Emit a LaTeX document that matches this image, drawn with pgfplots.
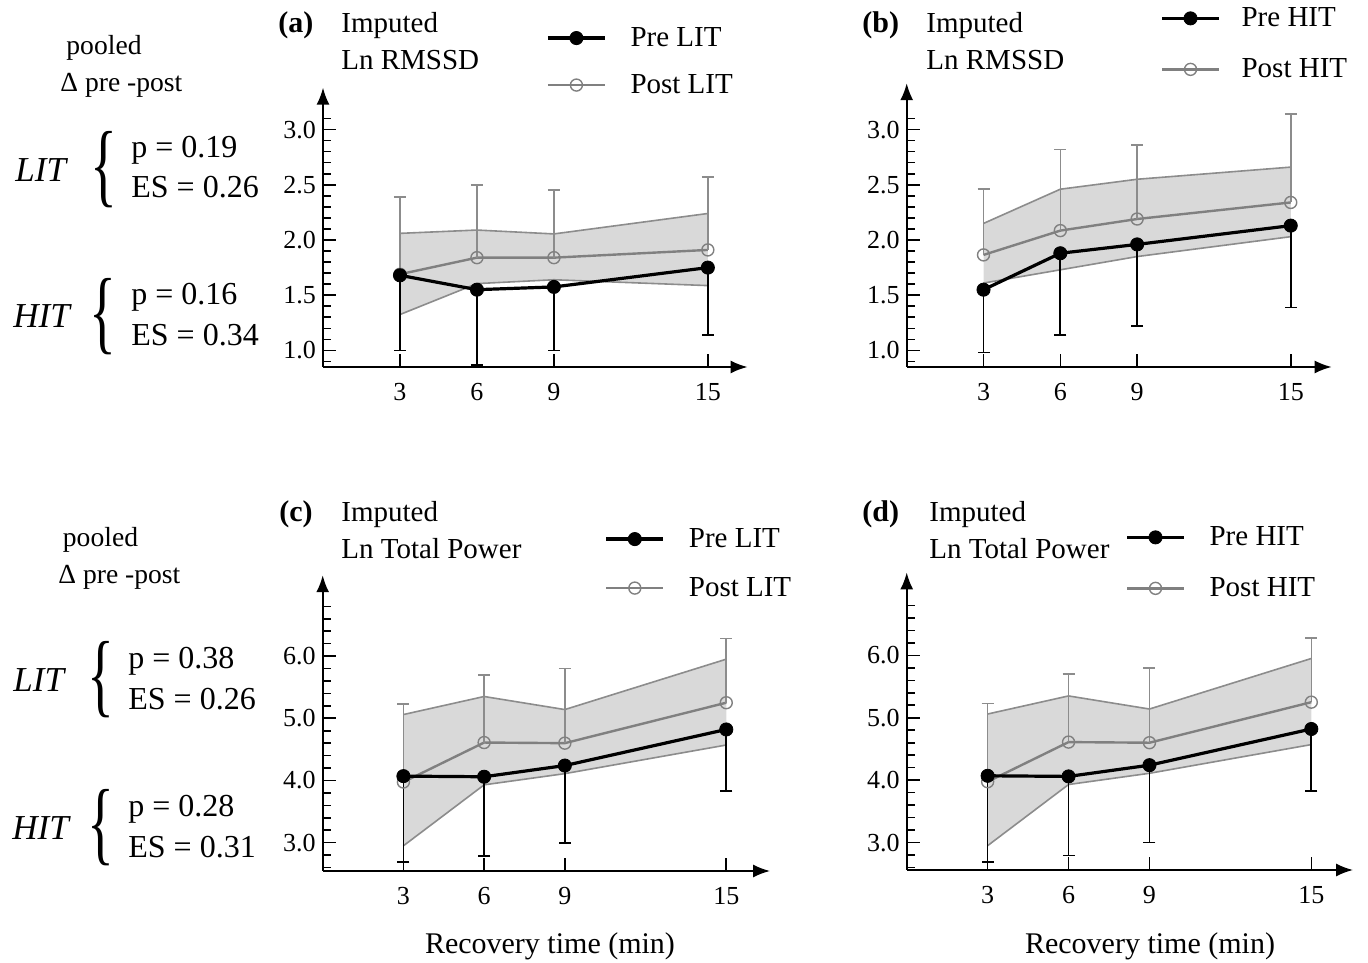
\documentclass[border=0pt]{standalone}
\usepackage{fontspec}
\setmainfont{Liberation Serif}
\newfontfamily\tickfont{Liberation Serif}
\usepackage{graphicx}
\usepackage{pgfplots}
\pgfplotsset{compat=1.18}
\usepgfplotslibrary{fillbetween}
\usetikzlibrary{arrows.meta}
\usepackage{pgfplotstable}

\definecolor{bandfill}{RGB}{217,217,217}
\definecolor{bandedge}{RGB}{140,140,140}
\definecolor{postline}{RGB}{128,128,128}
\definecolor{posterr}{RGB}{140,140,140}
\newcommand{\fs}[1]{\fontsize{#1}{#1}\selectfont}
\newcommand{\bigbrace}{\scalebox{1}[1.65]{\fs{28}\{}}

% x: minutes, pre/post means, one-sided bar lengths, shaded band limits
\pgfplotstableread{
x pre prem post postp hi lo
3 1.68 0.68 1.69 0.70 2.06 1.325
6 1.55 0.685 1.84 0.66 2.09 1.605
9 1.575 0.575 1.84 0.61 2.055 1.64
15 1.75 0.61 1.91 0.66 2.24 1.587
}\rmssdlit
\pgfplotstableread{
x pre prem post postp hi lo
3 1.55 0.57 1.865 0.595 2.15 1.61
6 1.88 0.74 2.085 0.735 2.46 1.73
9 1.96 0.74 2.19 0.67 2.55 1.85
15 2.13 0.74 2.34 0.80 2.66 2.03
}\rmssdhit
\pgfplotstableread{
x pre prem post postp hi lo
3 4.07 1.38 3.975 1.255 5.06 2.95
6 4.06 1.27 4.61 1.09 5.35 3.93
9 4.24 1.24 4.60 1.20 5.14 4.11
15 4.82 0.99 5.25 1.03 5.95 4.57
}\tp

\pgfplotsset{
  hrv/.style={
    scale only axis, axis lines=left, clip=false,
    axis line style={line width=1pt, -{Latex[length=8.5pt,width=6.5pt]}},
    every outer x axis line/.append style={-{Latex[length=8.5pt,width=6.5pt]}},
    every outer y axis line/.append style={-{Latex[length=8.5pt,width=6.5pt]}},
    tick align=inside, major tick length=6.5pt, minor tick length=4pt,
    tick style={black, line width=0.8pt},
    xmin=0, xtick={3,6,9,15},
    xticklabels={3,6,9,15},
    tick label style={font=\tickfont\fs{13}},
    xticklabel style={yshift=-4.5pt},
    legend cell align=left, reverse legend,
    legend style={draw=none, fill=none, inner sep=0pt, anchor=north west,
      font=\fs{14.5}, row sep=12.5pt, column sep=12pt,
      nodes={inner sep=0pt}},
    legend image code/.code={\draw[mark repeat=2,mark phase=2,##1]
      plot coordinates {(0pt,0pt) (14.25pt,0pt) (28.5pt,0pt)};},
  },
  rmssd/.style={ymin=0.85, ytick={1,1.5,2,2.5,3},
    yticklabels={1.0,1.5,2.0,2.5,3.0},
    minor ytick={0.9,1.1,1.2,1.3,1.4,1.6,1.7,1.8,1.9,2.1,2.2,2.3,2.4,2.6,2.7,2.8,2.9,3.1}},
  power/.style={ytick={3,4,5,6},
    yticklabels={3.0,4.0,5.0,6.0},
    minor ytick={2.6,2.8,3.2,3.4,3.6,3.8,4.2,4.4,4.6,4.8,5.2,5.4,5.6,5.8,6.2,6.4,6.6,6.8},
    xlabel={Recovery time (min)}, xlabel style={font=\fs{15}, anchor=base},
    legend style={row sep=13.5pt}},
  edge/.style={bandedge, line width=0.8pt, forget plot},
  post/.style={postline, line width=1.2pt, mark=o, mark size=3pt,
    mark options={solid, draw=postline, line width=0.7pt, fill=none},
    error bars/.cd, y dir=plus, y explicit, error mark=|,
    error bar style={posterr, line width=0.8pt},
    error mark options={posterr, line width=0.8pt, mark size=3pt}},
  pre/.style={black, line width=1.6pt, mark=*, mark size=3.3pt,
    mark options={solid, line width=0.4pt, fill=black},
    error bars/.cd, y dir=minus, y explicit, error mark=|,
    error bar style={black, line width=0.85pt},
    error mark options={black, line width=0.85pt, mark size=3pt}},
}

\newcommand{\panel}[1]{%
  \addplot[edge, name path=hi] table[x=x, y=hi] {#1};
  \addplot[edge, name path=lo] table[x=x, y=lo] {#1};
  \addplot[bandfill, forget plot] fill between[of=hi and lo];
  \addplot[post] table[x=x, y=post, y error plus=postp] {#1};
  \addplot[pre] table[x=x, y=pre, y error minus=prem] {#1};
}

\begin{document}
\begin{tikzpicture}

% (a)
\begin{axis}[hrv, rmssd, at={(161.5pt,297.5pt)}, anchor=south west,
  width=212.3pt, height=139.7pt, xmax=16.55, ymax=3.38,
  legend style={at={(axis description cs:0.525,1.218)}}]
\panel{\rmssdlit}
\legend{Post LIT, Pre LIT}
\end{axis}

% (b)
\begin{axis}[hrv, rmssd, at={(453.35pt,297.5pt)}, anchor=south west,
  width=212.5pt, height=141.9pt, xmax=16.6, ymax=3.42,
  legend style={at={(axis description cs:0.596,1.2685)}, column sep=10.5pt, row sep=14.5pt}]
\panel{\rmssdhit}
\legend{Post HIT, Pre HIT}
\end{axis}

% (c)
\begin{axis}[hrv, power, at={(161.35pt,45.5pt)}, anchor=south west,
  width=223.7pt, height=147.9pt, xmax=16.63, ymin=2.545, ymax=7.30,
  xlabel style={at={(axis description cs:0.508,0)}, yshift=-41pt},
  legend style={at={(axis description cs:0.6294,1.1606)}}]
\panel{\tp}
\legend{Post LIT, Pre LIT}
\end{axis}

% (d)
\begin{axis}[hrv, power, at={(453.35pt,46pt)}, anchor=south west,
  width=223.2pt, height=148.8pt, xmax=16.55, ymin=2.56, ymax=7.33,
  xlabel style={at={(axis description cs:0.545,0)}, yshift=-41.5pt},
  legend style={at={(axis description cs:0.489,1.156)}, row sep=14.5pt}]
\panel{\tp}
\legend{Post HIT, Pre HIT}
\end{axis}

% panel titles
\begin{scope}[every node/.style={anchor=base west, inner sep=0pt, font=\fs{14.5}}]
\node[font=\fs{15}] at (139pt,464.5pt) {\textbf{(a)}};
\node at (170.5pt,464.5pt) {Imputed};
\node at (170.5pt,446pt) {Ln RMSSD};
\node[font=\fs{15}] at (431pt,464.5pt) {\textbf{(b)}};
\node at (463pt,464.5pt) {Imputed};
\node at (463pt,446pt) {Ln RMSSD};
\node[font=\fs{15}] at (139.5pt,220pt) {\textbf{(c)}};
\node at (170.5pt,220pt) {Imputed};
\node at (170.5pt,201.5pt) {Ln Total Power};
\node[font=\fs{15}] at (431pt,220pt) {\textbf{(d)}};
\node at (464.5pt,220pt) {Imputed};
\node at (464.5pt,201.5pt) {Ln Total Power};
\end{scope}

% pooled pre-post statistics
\begin{scope}[every node/.style={anchor=base west, inner sep=0pt, font=\fs{16}}]
\node[anchor=base, font=\fs{13.8}] at (52pt,453.5pt) {pooled};
\node[font=\fs{13.8}] at (30pt,435pt) {Δ pre -post};
\node[font=\fs{17.5}\itshape] at (7.5pt,390.25pt) {LIT};
\node[anchor=center] at (51.75pt,396pt) {\bigbrace};
\node at (65.5pt,402pt) {p = 0.19};
\node at (65.5pt,382pt) {ES = 0.26};
\node[font=\fs{17.5}\itshape] at (6.5pt,317pt) {HIT};
\node[anchor=center] at (51.5pt,322.75pt) {\bigbrace};
\node at (65.5pt,328.5pt) {p = 0.16};
\node at (65.5pt,308pt) {ES = 0.34};

\node[anchor=base, font=\fs{13.8}] at (50.25pt,207.5pt) {pooled};
\node[font=\fs{13.8}] at (29pt,189pt) {Δ pre -post};
\node[font=\fs{17.5}\itshape] at (6.5pt,135.25pt) {LIT};
\node[anchor=center] at (50.5pt,141pt) {\bigbrace};
\node at (64pt,146.5pt) {p = 0.38};
\node at (64pt,126.25pt) {ES = 0.26};
\node[font=\fs{17.5}\itshape] at (6pt,61.25pt) {HIT};
\node[anchor=center] at (50.5pt,67pt) {\bigbrace};
\node at (64pt,72.5pt) {p = 0.28};
\node at (64pt,52.25pt) {ES = 0.31};
\end{scope}

\pgfresetboundingbox
\useasboundingbox (0,0) rectangle (684pt,481pt);
\end{tikzpicture}
\end{document}
